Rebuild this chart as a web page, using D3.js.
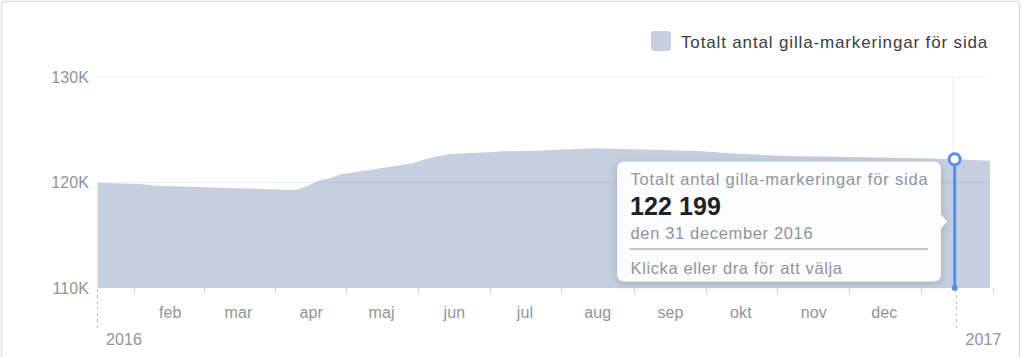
<!DOCTYPE html>
<html>
<head>
<meta charset="utf-8">
<script src="https://cdn.jsdelivr.net/npm/d3@7"></script>
<style>
  html, body { margin: 0; padding: 0; background: #fff; }
  svg { display: block; font-family: "Liberation Sans", Arial, Helvetica, sans-serif; }
</style>
</head>
<body>
<svg id="chart" width="1024" height="357"></svg>
<script>
// ---- data ----
const seriesName = "Totalt antal gilla-markeringar för sida";
const dates = ["2016-01-01","2016-01-19","2016-01-26","2016-02-23","2016-03-23","2016-03-27",
  "2016-04-02","2016-04-05","2016-04-09","2016-04-14","2016-04-26","2016-05-14","2016-05-21",
  "2016-05-30","2016-06-10","2016-06-16","2016-06-21","2016-07-03","2016-07-30","2016-08-16",
  "2016-09-13","2016-09-26","2016-10-19","2016-11-16","2016-12-22","2016-12-31","2017-01-15"];
const values = [119980,119860,119700,119510,119290,119350,
  119920,120240,120400,120810,121190,121820,122290,
  122700,122830,122860,122960,122990,123240,123150,
  122990,122770,122510,122420,122260,122199,122070];
const yTicks = [110000, 120000, 130000];
const monthLabels = ["feb","mar","apr","maj","jun","jul","aug","sep","okt","nov","dec"];
const yearLabels = ["2016","2017"];
const selectedDate = "2016-12-31";
const tooltipHint = "Klicka eller dra för att välja";

// ---- setup ----
const parse = d3.timeParse("%Y-%m-%d");
const data = dates.map((d, i) => ({ date: parse(d), value: values[i] }));
const svg = d3.select("#chart");

const sv = d3.timeFormatLocale({
  dateTime: "%A den %d %B %Y %X", date: "%Y-%m-%d", time: "%H:%M:%S",
  periods: ["fm", "em"],
  days: ["söndag","måndag","tisdag","onsdag","torsdag","fredag","lördag"],
  shortDays: ["sön","mån","tis","ons","tor","fre","lör"],
  months: ["januari","februari","mars","april","maj","juni","juli","augusti","september","oktober","november","december"],
  shortMonths: ["jan","feb","mar","apr","maj","jun","jul","aug","sep","okt","nov","dec"]
});
const numFmt = d3.formatLocale({ decimal: ",", thousands: " ", grouping: [3], currency: ["", " kr"] }).format(",d");

const x = d3.scaleTime()
  .domain([new Date(2016, 0, 1), new Date(2017, 0, 1)])
  .range([97.5, 957]);
const y = d3.scaleLinear().domain([110000, 130000]).range([288, 77]);

const AXIS = "#90949c";
const AREA = "#c5cfe0";
const BLUE = "#5b8def";

// card border
svg.append("rect").attr("x", 1.5).attr("y", 1.5).attr("width", 1018).attr("height", 380)
  .attr("rx", 3).attr("fill", "#fff").attr("stroke", "#dddfe2").attr("stroke-width", 1.5);

// legend
const lg = svg.append("g");
lg.append("rect").attr("x", 651).attr("y", 31).attr("width", 20).attr("height", 20)
  .attr("rx", 3).attr("fill", AREA);
lg.append("text").attr("x", 681).attr("y", 47.5).attr("fill", "#3a3d42")
  .style("font-size", "17px").style("letter-spacing", "0.85px").text(seriesName);

// area
const area = d3.area().x(d => x(d.date)).y0(y(110000)).y1(d => y(d.value));
svg.append("path").datum(data).attr("d", area).attr("fill", AREA);

// gridlines
svg.append("g").selectAll("line").data(yTicks.filter(t => t > 110000)).join("line")
  .attr("x1", 96).attr("x2", 991)
  .attr("y1", d => y(d)).attr("y2", d => y(d))
  .attr("stroke", "#000").attr("stroke-opacity", 0.06).attr("stroke-width", 1);

// y labels
svg.append("g").selectAll("text").data(yTicks).join("text")
  .attr("x", 89).attr("y", d => y(d)).attr("dy", "0.36em")
  .attr("text-anchor", "end").attr("fill", AXIS)
  .style("font-size", "16px").style("letter-spacing", "0.1px")
  .text(d => (d / 1000) + "K");

// x axis: tick marks at mid-month, labels at month starts
const monthStarts = d3.timeMonth.range(new Date(2016, 0, 1), new Date(2017, 1, 2));
const mids = monthStarts.slice(0, -1).map((m, i) => new Date((+m + +monthStarts[i + 1]) / 2));
svg.append("g").selectAll("line").data(mids).join("line")
  .attr("x1", d => Math.round(x(d)) + 0.5).attr("x2", d => Math.round(x(d)) + 0.5)
  .attr("y1", 288).attr("y2", 294)
  .attr("stroke", "#ccd0d5").attr("stroke-width", 1);

const labelMonths = d3.timeMonth.range(new Date(2016, 1, 1), new Date(2016, 11, 2));
svg.append("g").selectAll("text").data(labelMonths).join("text")
  .attr("x", d => x(d)).attr("y", 317.5).attr("text-anchor", "middle")
  .attr("fill", AXIS).style("font-size", "16px").style("letter-spacing", "0.1px")
  .text((d, i) => monthLabels[i]);

// year markers
const years = [new Date(2016, 0, 1), new Date(2017, 0, 1)];
const yg = svg.append("g");
yg.selectAll("line").data(years).join("line")
  .attr("x1", d => Math.round(x(d)) - 0.5).attr("x2", d => Math.round(x(d)) - 0.5)
  .attr("y1", 289).attr("y2", 331)
  .attr("stroke", "#bec3c9").attr("stroke-width", 1).attr("stroke-dasharray", "3,3");
yg.selectAll("text").data(years).join("text")
  .attr("x", d => x(d) + 8.5).attr("y", 345)
  .attr("fill", AXIS).style("font-size", "16px").style("letter-spacing", "0.1px")
  .text((d, i) => yearLabels[i]);

// selection marker
const sel = data.find(d => +d.date === +parse(selectedDate));
const sx = x(sel.date), sy = y(sel.value);
svg.append("line").attr("x1", sx - 1.5).attr("x2", sx - 1.5).attr("y1", 77).attr("y2", sy)
  .attr("stroke", "#000").attr("stroke-opacity", 0.07);
svg.append("line").attr("x1", sx).attr("x2", sx).attr("y1", sy).attr("y2", y(110000))
  .attr("stroke", BLUE).attr("stroke-width", 3);
svg.append("circle").attr("cx", sx).attr("cy", y(110000)).attr("r", 3).attr("fill", BLUE);
svg.append("circle").attr("cx", sx).attr("cy", sy).attr("r", 5.5)
  .attr("fill", "#fff").attr("stroke", BLUE).attr("stroke-width", 3);

// tooltip
const defs = svg.append("defs");
const f = defs.append("filter").attr("id", "sh").attr("x", "-20%").attr("y", "-30%")
  .attr("width", "140%").attr("height", "160%");
f.append("feDropShadow").attr("dx", 0).attr("dy", 2).attr("stdDeviation", 5)
  .attr("flood-color", "#000").attr("flood-opacity", 0.18);

const tx = 617, ty = 161.5, tw = 324, th = 120;
const tg = svg.append("g");
tg.append("path")
  .attr("d", `M${tx + 8},${ty} H${tx + tw - 8} Q${tx + tw},${ty} ${tx + tw},${ty + 8} V${ty + 53} L${tx + tw + 6},${ty + 60} L${tx + tw},${ty + 67} V${ty + th - 8} Q${tx + tw},${ty + th} ${tx + tw - 8},${ty + th} H${tx + 8} Q${tx},${ty + th} ${tx},${ty + th - 8} V${ty + 8} Q${tx},${ty} ${tx + 8},${ty} Z`)
  .attr("fill", "#fcfcfd").attr("filter", "url(#sh)");
tg.append("text").attr("x", 630.5).attr("y", 185).attr("fill", AXIS)
  .style("font-size", "16.5px").style("letter-spacing", "0.82px").text(seriesName);
tg.append("text").attr("x", 630).attr("y", 215).attr("fill", "#1d2129")
  .style("font-size", "25px").style("font-weight", "bold").style("letter-spacing", "0.1px")
  .text(numFmt(sel.value));
tg.append("text").attr("x", 630.5).attr("y", 238.5).attr("fill", AXIS)
  .style("font-size", "16.5px").style("letter-spacing", "0.65px")
  .text(sv.format("den %-d %B %Y")(sel.date));
tg.append("line").attr("x1", 629.5).attr("x2", 928).attr("y1", 249).attr("y2", 249)
  .attr("stroke", "#90949c").attr("stroke-width", 1.2);
tg.append("text").attr("x", 630.5).attr("y", 273.5).attr("fill", AXIS)
  .style("font-size", "16.5px").style("letter-spacing", "0.62px").text(tooltipHint);
</script>
</body>
</html>
